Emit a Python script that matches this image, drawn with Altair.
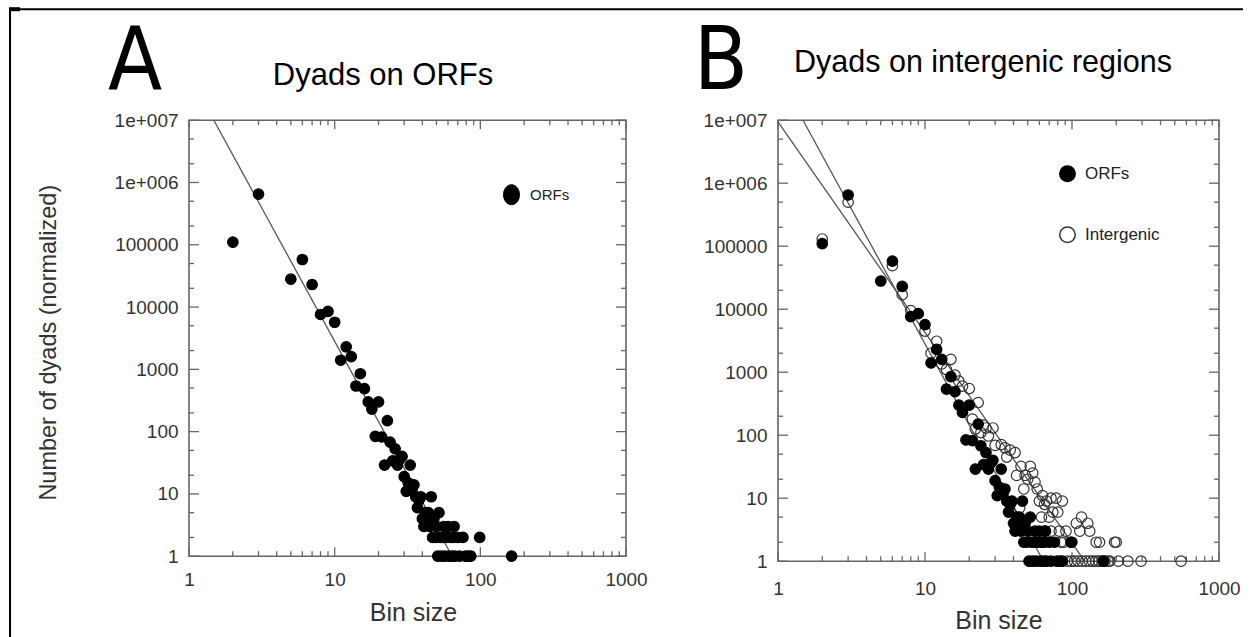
import altair as alt
import pandas as pd

# ---------------- data ----------------
orf_x = [2, 3, 5, 6, 7, 8, 9, 10,
         11, 12, 13, 14, 15, 16, 17, 18, 19, 20,
         21, 22, 23, 24, 25, 26, 27, 28, 29, 30,
         31, 32, 33, 34, 35, 36, 37, 38, 39, 40,
         41, 42, 43, 44, 45, 46, 47, 48, 49, 50,
         51, 52, 53, 54, 55, 56, 57, 58, 60, 61,
         62, 64, 65, 66, 67, 70, 72, 76, 79, 83,
         86, 99, 164]
orf_y = [110000, 650000, 28000, 58000, 23000, 7600, 8500, 5700,
         1400, 2300, 1600, 540, 850, 490, 300, 230, 84, 300,
         82, 29, 150, 68, 34, 53, 29, 36, 40, 19,
         11, 15, 29, 12, 14, 9, 6, 8, 9, 4,
         3, 5, 4, 5, 3, 9, 2, 4, 2, 3,
         1, 5, 2, 1, 2, 3, 1, 2, 3, 1,
         2, 1, 2, 3, 1, 2, 1, 2, 1, 1,
         1, 2, 1]

int_x = [2, 3, 6, 7, 8, 10, 11, 12, 13, 14,
         15, 16, 17, 18, 20, 21, 22, 23, 24, 25,
         26, 27, 29, 30, 33, 35, 36, 38, 41, 42,
         44, 45, 47, 48, 50, 52, 54, 56, 56, 58,
         60, 62, 62, 63, 65, 65, 67, 70, 72, 72,
         74, 78, 80, 82, 84, 86, 88, 91, 98, 100,
         107, 110, 113, 116, 117, 124, 128, 131, 132, 138,
         145, 146, 152, 154, 160, 168, 176, 181, 195, 200,
         207, 240, 295, 552, 93, 99, 104]
int_y = [130000, 500000, 49000, 17000, 9500, 4500, 2000, 3100, 1350, 1100,
         1600, 900, 720, 600, 550, 180, 125, 330, 110, 145,
         130, 97, 130, 69, 71, 63, 45, 58, 53, 23,
         7, 32, 14, 23, 20, 32, 25, 18, 2, 14,
         9, 5, 2, 11, 8, 3, 9, 5, 10, 3,
         6, 10, 6, 3, 2, 9, 2, 3, 2, 2,
         4, 1, 3, 5, 1, 1, 4, 1, 3, 1,
         1, 2, 1, 2, 1, 1, 1, 1, 2, 2,
         1, 1, 1, 1, 1, 1, 1]

# fitted power-law lines (end points)
orf_fit_x = [1.48, 64]
orf_fit_y = [1e7, 1]
int_fit_x = [1, 122]
int_fit_y = [9.4e6, 1]

# axes
x_major = [1, 10, 100, 1000]
x_labels = ["1", "10", "100", "1000"]
x_minor = [m * d for d in (1, 10, 100) for m in range(2, 10)]
y_major = [1, 10, 100, 1000, 10000, 100000, 1000000, 10000000]
y_labels = ["1", "10", "100", "1000", "10000", "100000", "1e+006", "1e+007"]
y_minor = [m * d for d in (1, 10, 100, 1000, 10000, 100000, 1000000) for m in (2, 5)]

series_names = ["ORFs", "Intergenic"]
panel_titles = ["Dyads on ORFs", "Dyads on intergenic regions"]
panel_letters = ["A", "B"]
x_title = "Bin size"
y_title = "Number of dyads (normalized)"

# ---------------- styles ----------------
SANS = "Liberation Sans, Arial, Helvetica, sans-serif"
COND = "DejaVu Sans Condensed, Liberation Sans, sans-serif"
GREY = "#666666"
TXT = "#333333"

x_scale = alt.Scale(type="log", domain=[1, 1000], nice=False)
y_scale = alt.Scale(type="log", domain=[1, 1e7], nice=False)


def label_expr(labels):
    return "[" + ",".join("'%s'" % s for s in labels) + "][round(log(datum.value)/LN10)]"


def make_axes(H, x_label_pad, x_title_x, x_title_base, y_title_text, y_title_x, y_title_y):
    xa = alt.Axis(values=x_major, labelExpr=label_expr(x_labels), ticks=False, tickSize=0,
                  domain=False, grid=False, labelFlush=False, labelOverlap=False,
                  labelFont=SANS, labelFontSize=19, labelColor=TXT, labelPadding=x_label_pad,
                  title=x_title, titleFont=SANS, titleFontSize=25, titleFontWeight="normal",
                  titleColor=TXT, titleX=x_title_x, titleY=x_title_base - H,
                  titleBaseline="alphabetic", titleAlign="center")
    ya = alt.Axis(values=y_major, labelExpr=label_expr(y_labels), ticks=False, tickSize=0,
                  domain=False, grid=False, labelFlush=False, labelOverlap=False,
                  labelFont=SANS, labelFontSize=19, labelColor=TXT, labelPadding=11,
                  title=y_title_text, titleFont=SANS, titleFontSize=23.5,
                  titleFontWeight="normal", titleColor=TXT, titleX=y_title_x,
                  titleY=y_title_y, titleAngle=270, titleBaseline="middle",
                  titleAlign="center")
    return xa, ya


def tick_layers(W, H, xa, ya):
    layers = []
    for vals, ln in ((x_major, 9), (x_minor, 5)):
        df = pd.DataFrame({"x": vals})
        for y0, y1 in ((H, H - ln), (0, ln)):
            layers.append(alt.Chart(df).mark_rule(color=GREY, strokeWidth=1.3).encode(
                x=alt.X("x:Q", scale=x_scale, axis=xa),
                y=alt.value(y0), y2=alt.value(y1)))
    for vals, ln in ((y_major, 10), (y_minor, 5)):
        df = pd.DataFrame({"y": vals})
        for x0, x1 in ((0, ln), (W, W - ln)):
            layers.append(alt.Chart(df).mark_rule(color=GREY, strokeWidth=1.3).encode(
                y=alt.Y("y:Q", scale=y_scale, axis=ya),
                x=alt.value(x0), x2=alt.value(x1)))
    return layers


def text_layer(txt, x, y, font, size):
    return alt.Chart(pd.DataFrame({"t": [txt]})).mark_text(
        font=font, fontSize=size, color="black", align="center", baseline="alphabetic"
    ).encode(text="t:N", x=alt.value(x), y=alt.value(y))


# ---------------- panel A ----------------
WA, HA = 437, 436
xaA, yaA = make_axes(HA, 14, 224, 500, y_title, -141, 222)

ptsA = pd.DataFrame({"x": orf_x, "y": orf_y, "series": [series_names[0]] * len(orf_x)})
fitA = pd.DataFrame({"x": orf_fit_x, "y": orf_fit_y, "fit": ["ORFs"] * 2})

legendA = alt.Legend(orient="none", legendX=312, legendY=64, title=None,
                     symbolType="M-0.8,0A0.8,1,0,1,1,0.8,0A0.8,1,0,1,1,-0.8,0Z",
                     symbolSize=400, symbolStrokeWidth=1, labelFont=SANS,
                     labelFontSize=15, labelColor="#222", labelOffset=8, padding=0)

layersA = tick_layers(WA, HA, xaA, yaA)
layersA.append(alt.Chart(fitA).mark_line(color="#555555", strokeWidth=1.3).encode(
    x=alt.X("x:Q", scale=x_scale, axis=xaA), y=alt.Y("y:Q", scale=y_scale, axis=yaA),
    detail="fit:N"))
layersA.append(alt.Chart(ptsA).mark_point(shape="circle", size=110, strokeWidth=1.2,
                                          opacity=1).encode(
    x=alt.X("x:Q", scale=x_scale, axis=xaA), y=alt.Y("y:Q", scale=y_scale, axis=yaA),
    fill=alt.Fill("series:N", scale=alt.Scale(domain=[series_names[0]], range=["black"]),
                  legend=legendA),
    stroke=alt.Stroke("series:N", scale=alt.Scale(domain=[series_names[0]], range=["black"]),
                      legend=legendA)))
layersA.append(text_layer(panel_letters[0], -54, -31, COND, 88))
layersA.append(text_layer(panel_titles[0], 194, -35, SANS, 31))
# page border lines of the original figure
one = pd.DataFrame({"k": [0]})
layersA.append(alt.Chart(one).mark_rule(color="black", strokeWidth=2).encode(
    x=alt.value(-179), y=alt.value(-111), y2=alt.value(518)))
layersA.append(alt.Chart(one).mark_rule(color="black", strokeWidth=2).encode(
    x=alt.value(-180), x2=alt.value(1054), y=alt.value(-111)))
layersA.append(alt.Chart(one).mark_rule(color="black", strokeWidth=4).encode(
    x=alt.value(-180), x2=alt.value(-169), y=alt.value(-111)))

panelA = alt.layer(*layersA).properties(width=WA, height=HA)

# ---------------- panel B ----------------
WB, HB = 441, 441
xaB, yaB = make_axes(HB, 18, WB / 2, 508, "", -141, 220)

ptsB = pd.DataFrame({
    "x": int_x + orf_x,
    "y": int_y + orf_y,
    "series": [series_names[1]] * len(int_x) + [series_names[0]] * len(orf_x),
})
fitB = pd.DataFrame({"x": orf_fit_x + int_fit_x, "y": orf_fit_y + int_fit_y,
                     "fit": ["ORFs", "ORFs", "Intergenic", "Intergenic"]})

legendB = alt.Legend(orient="none", legendX=281, legendY=45, title=None,
                     symbolType="circle", symbolSize=240, symbolStrokeWidth=1.5,
                     labelFont=SANS, labelFontSize=17, labelColor="#222",
                     labelOffset=9, rowPadding=38, padding=0)

layersB = tick_layers(WB, HB, xaB, yaB)
layersB.append(alt.Chart(fitB).mark_line(color="#555555", strokeWidth=1.3).encode(
    x=alt.X("x:Q", scale=x_scale, axis=xaB), y=alt.Y("y:Q", scale=y_scale, axis=yaB),
    detail="fit:N"))
layersB.append(alt.Chart(ptsB).mark_point(shape="circle", size=110, strokeWidth=1.2,
                                          opacity=1).encode(
    x=alt.X("x:Q", scale=x_scale, axis=xaB), y=alt.Y("y:Q", scale=y_scale, axis=yaB),
    fill=alt.Fill("series:N", scale=alt.Scale(domain=series_names,
                                              range=["black", "transparent"]),
                  legend=legendB),
    stroke=alt.Stroke("series:N", scale=alt.Scale(domain=series_names,
                                                  range=["black", "#333333"]),
                      legend=legendB)))
layersB.append(text_layer(panel_letters[1], -57, -31, COND, 88))
layersB.append(text_layer(panel_titles[1], 205, -48, SANS, 30.5))

panelB = alt.layer(*layersB).properties(width=WB, height=HB)

chart = alt.hconcat(panelA, panelB, spacing=152, bounds="flush").resolve_scale(
    fill="independent", stroke="independent"
).resolve_legend(
    fill="independent", stroke="independent"
).properties(
    padding={"left": 6, "top": 6.2, "right": 0, "bottom": 0},
    background="white",
).configure_view(stroke=GREY, strokeWidth=1.6)

chart.save("out.html", embed_options={"renderer": "svg", "actions": False})
